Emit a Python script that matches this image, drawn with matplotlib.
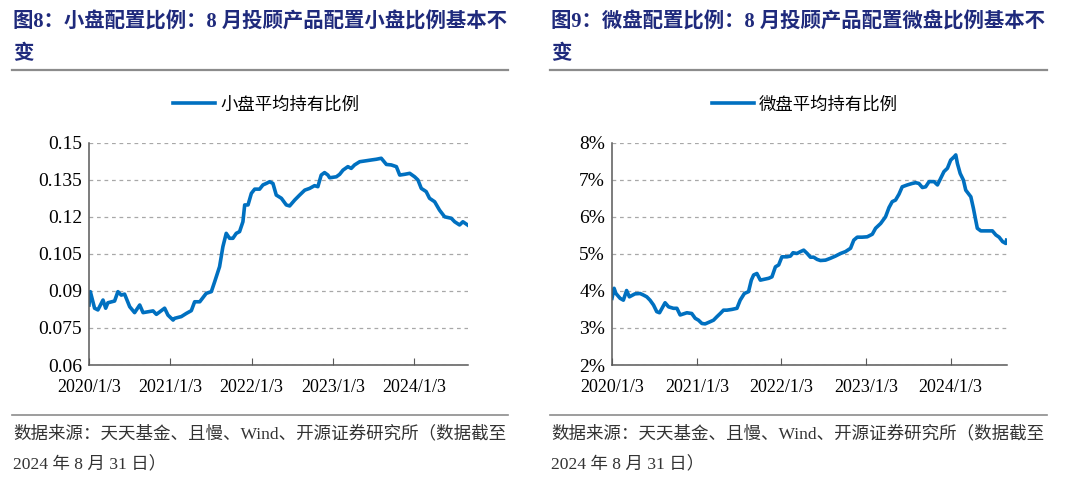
import matplotlib
matplotlib.use("Agg")
import matplotlib.pyplot as plt
from matplotlib.lines import Line2D
import pandas as pd

# ---- data ----
small_dates = [
    '2020-01-03', '2020-01-09', '2020-01-28', '2020-02-12', '2020-03-06', '2020-03-18',
    '2020-03-28', '2020-04-27', '2020-05-12', '2020-05-27', '2020-06-11', '2020-07-04',
    '2020-07-26', '2020-08-18', '2020-09-02', '2020-10-17', '2020-11-01', '2020-12-08',
    '2020-12-23', '2021-01-15', '2021-01-22', '2021-02-21', '2021-03-16', '2021-04-07',
    '2021-04-22', '2021-05-15', '2021-06-13', '2021-07-06', '2021-07-21', '2021-08-12',
    '2021-08-27', '2021-09-11', '2021-09-26', '2021-10-11', '2021-10-26', '2021-11-10',
    '2021-11-25', '2021-12-03', '2021-12-18', '2022-01-02', '2022-01-17', '2022-02-08',
    '2022-02-23', '2022-03-10', '2022-03-25', '2022-04-09', '2022-04-24', '2022-05-17',
    '2022-06-08', '2022-06-23', '2022-07-16', '2022-08-07', '2022-08-30', '2022-09-21',
    '2022-10-13', '2022-10-28', '2022-11-12', '2022-11-27', '2022-12-12', '2022-12-20',
    '2023-01-19', '2023-02-03', '2023-02-18', '2023-03-12', '2023-03-27', '2023-04-11',
    '2023-05-04', '2023-06-03', '2023-06-25', '2023-07-18', '2023-08-09', '2023-09-01',
    '2023-09-23', '2023-10-16', '2023-10-31', '2023-11-22', '2023-12-15', '2024-01-06',
    '2024-01-21', '2024-02-05', '2024-02-27', '2024-03-13', '2024-04-05', '2024-04-27',
    '2024-05-20', '2024-06-19', '2024-07-04', '2024-07-26', '2024-08-10', '2024-08-31',
]
small_vals = [
    0.0843, 0.0897, 0.0830, 0.0823, 0.0863, 0.0830,
    0.0852, 0.0859, 0.0897, 0.0883, 0.0887, 0.0836,
    0.0812, 0.0843, 0.0812, 0.0819, 0.0805, 0.0830,
    0.0802, 0.0782, 0.0789, 0.0796, 0.0809, 0.0820,
    0.0856, 0.0856, 0.0890, 0.0897, 0.0937, 0.0998,
    0.1079, 0.1133, 0.1113, 0.1113, 0.1133, 0.1140,
    0.1180, 0.1248, 0.1248, 0.1295, 0.1312, 0.1312,
    0.1329, 0.1335, 0.1342, 0.1335, 0.1288, 0.1275,
    0.1248, 0.1244, 0.1268, 0.1288, 0.1308, 0.1315,
    0.1326, 0.1322, 0.1369, 0.1379, 0.1369, 0.1358,
    0.1362, 0.1372, 0.1389, 0.1403, 0.1396, 0.1410,
    0.1423, 0.1427, 0.1430, 0.1433, 0.1437, 0.1412,
    0.1410, 0.1403, 0.1369, 0.1372, 0.1376, 0.1362,
    0.1349, 0.1315, 0.1302, 0.1275, 0.1261, 0.1227,
    0.1200, 0.1194, 0.1180, 0.1167, 0.1180, 0.1167,
]

micro_dates = [
    '2020-01-03', '2020-01-12', '2020-01-20', '2020-02-07', '2020-02-21', '2020-03-06',
    '2020-03-18', '2020-04-11', '2020-05-03', '2020-05-17', '2020-06-01', '2020-06-15',
    '2020-06-30', '2020-07-14', '2020-07-26', '2020-08-19', '2020-09-03', '2020-09-24',
    '2020-10-09', '2020-10-23', '2020-11-21', '2020-12-12', '2020-12-27', '2021-01-10',
    '2021-01-25', '2021-02-08', '2021-03-02', '2021-03-16', '2021-03-30', '2021-04-14',
    '2021-04-28', '2021-05-13', '2021-06-03', '2021-06-25', '2021-07-09', '2021-07-27',
    '2021-08-14', '2021-08-26', '2021-09-05', '2021-09-19', '2021-10-04', '2021-10-18',
    '2021-11-09', '2021-11-23', '2021-12-08', '2021-12-22', '2022-01-05', '2022-01-27',
    '2022-02-11', '2022-02-22', '2022-03-11', '2022-03-26', '2022-04-09', '2022-04-24',
    '2022-05-08', '2022-05-22', '2022-06-06', '2022-06-20', '2022-07-12', '2022-08-02',
    '2022-08-24', '2022-09-15', '2022-10-06', '2022-10-28', '2022-11-11', '2022-11-26',
    '2022-12-17', '2023-01-08', '2023-01-30', '2023-02-13', '2023-03-07', '2023-03-28',
    '2023-04-12', '2023-04-26', '2023-05-10', '2023-05-25', '2023-06-08', '2023-06-30',
    '2023-07-21', '2023-08-05', '2023-08-19', '2023-09-03', '2023-09-17', '2023-10-02',
    '2023-10-23', '2023-11-07', '2023-11-21', '2023-12-05', '2023-12-20', '2024-01-03',
    '2024-01-18', '2024-01-25', '2024-02-01', '2024-02-13', '2024-02-27', '2024-03-08',
    '2024-03-30', '2024-04-10', '2024-04-20', '2024-04-27', '2024-05-12', '2024-06-10',
    '2024-07-01', '2024-07-16', '2024-07-30', '2024-08-14', '2024-08-28', '2024-08-31',
]
micro_vals = [  # percent
    3.80, 4.07, 3.93, 3.80, 3.75, 4.01,
    3.84, 3.92, 3.93, 3.89, 3.84, 3.75,
    3.62, 3.44, 3.41, 3.68, 3.57, 3.53,
    3.53, 3.35, 3.41, 3.39, 3.26, 3.21,
    3.12, 3.11, 3.17, 3.21, 3.30, 3.39,
    3.48, 3.48, 3.50, 3.53, 3.75, 3.93,
    3.98, 4.29, 4.43, 4.47, 4.29, 4.31,
    4.34, 4.38, 4.65, 4.70, 4.92, 4.92,
    4.94, 5.03, 5.01, 5.06, 5.10, 5.01,
    4.91, 4.91, 4.85, 4.82, 4.83, 4.88,
    4.94, 5.01, 5.06, 5.15, 5.37, 5.45,
    5.45, 5.46, 5.53, 5.69, 5.82, 6.00,
    6.25, 6.41, 6.45, 6.61, 6.81, 6.86,
    6.90, 6.92, 6.90, 6.79, 6.81, 6.95,
    6.95, 6.86, 7.04, 7.22, 7.31, 7.53,
    7.62, 7.67, 7.44, 7.17, 6.99, 6.72,
    6.54, 6.23, 5.91, 5.69, 5.62, 5.62,
    5.62, 5.51, 5.45, 5.33, 5.28, 5.37,
]

tick_dates = ['2020-01-03', '2021-01-03', '2022-01-03', '2023-01-03', '2024-01-03']
tick_labels = ['2020/1/3', '2021/1/3', '2022/1/3', '2023/1/3', '2024/1/3']
small_yticks = [0.06, 0.075, 0.09, 0.105, 0.12, 0.135, 0.15]
micro_yticks = [2, 3, 4, 5, 6, 7, 8]

titles = [
    ('图8：小盘配置比例：8 月投顾产品配置小盘比例基本不', '变'),
    ('图9：微盘配置比例：8 月投顾产品配置微盘比例基本不', '变'),
]
legend_labels = ['小盘平均持有比例', '微盘平均持有比例']
source_lines = ('数据来源：天天基金、且慢、Wind、开源证券研究所（数据截至',
                '2024 年 8 月 31 日）')

BLUE = '#0070C0'
NAVY = '#1F2A7C'
W, H = 1080, 480
SERIF = ['Liberation Serif', 'Noto Sans CJK SC']

fig = plt.figure(figsize=(W / 100, H / 100), dpi=100)


def fx(px):
    return px / W


def fy(py):
    return 1 - py / H


def draw_panel(left, right, dates, vals, yticks, ylabels, legend_label, legend_cx):
    ax = fig.add_axes([fx(left), fy(365), fx(right - left), fy(142.7) - fy(365)])
    ax.plot(pd.to_datetime(dates), vals, color=BLUE, lw=2.6, solid_joinstyle='round')
    ax.set_xlim(pd.Timestamp('2020-01-03'), pd.Timestamp('2024-09-02'))
    ax.set_ylim(yticks[0], yticks[-1])
    ax.set_yticks(yticks)
    ax.set_yticklabels(ylabels, fontfamily='Liberation Serif', fontsize=14)
    ax.set_xticks(pd.to_datetime(tick_dates))
    ax.set_xticklabels(tick_labels, fontfamily='Liberation Serif', fontsize=13)
    ax.tick_params(axis='x', direction='in', length=5, width=0.8, color='#595959', pad=10)
    ax.tick_params(axis='y', length=0, pad=5)
    ax.grid(axis='y', color='#A8A8A8', linestyle=(0, (3, 3)), linewidth=0.9)
    ax.set_axisbelow(True)
    for s in ['top', 'right']:
        ax.spines[s].set_visible(False)
    for s in ['left', 'bottom']:
        ax.spines[s].set_color('#595959')
        ax.spines[s].set_linewidth(1.1)
    handle = Line2D([], [], color=BLUE, lw=2.6)
    fig.legend([handle], [legend_label], loc='center',
               bbox_to_anchor=(fx(legend_cx), fy(105)), frameon=False,
               prop={'family': SERIF, 'size': 12.5}, handlelength=2.4,
               handletextpad=0.3)
    return ax


draw_panel(89, 468, small_dates, small_vals, small_yticks,
           ['%g' % v for v in small_yticks], legend_labels[0], 266)
draw_panel(612, 1007, micro_dates, micro_vals, micro_yticks,
           ['%d%%' % v for v in micro_yticks], legend_labels[1], 805)

# titles, separators and source notes for both panels
for x0, x1, (line1, line2) in [(12, 508, titles[0]), (550, 1047, titles[1])]:
    fig.text(fx(x0 + 1), fy(22.5), line1, fontsize=14.7, fontweight='bold', color=NAVY,
             family=SERIF, va='center', ha='left')
    fig.text(fx(x0 + 1), fy(54), line2, fontsize=14.7, fontweight='bold', color=NAVY,
             family=SERIF, va='center', ha='left')
    fig.add_artist(Line2D([fx(x0), fx(x1)], [fy(69.5), fy(69.5)], color='#8C8C8C', lw=1.6))
    fig.add_artist(Line2D([fx(x0), fx(x1)], [fy(415), fy(415)], color='#8C8C8C', lw=1.2))
    fig.text(fx(x0 + 1), fy(434), source_lines[0], fontsize=12.6, color='#333333',
             family=SERIF, va='center', ha='left')
    fig.text(fx(x0 + 1), fy(465), source_lines[1], fontsize=12.6, color='#333333',
             family=SERIF, va='center', ha='left')

fig.savefig('out.png', dpi=100, facecolor='white')
